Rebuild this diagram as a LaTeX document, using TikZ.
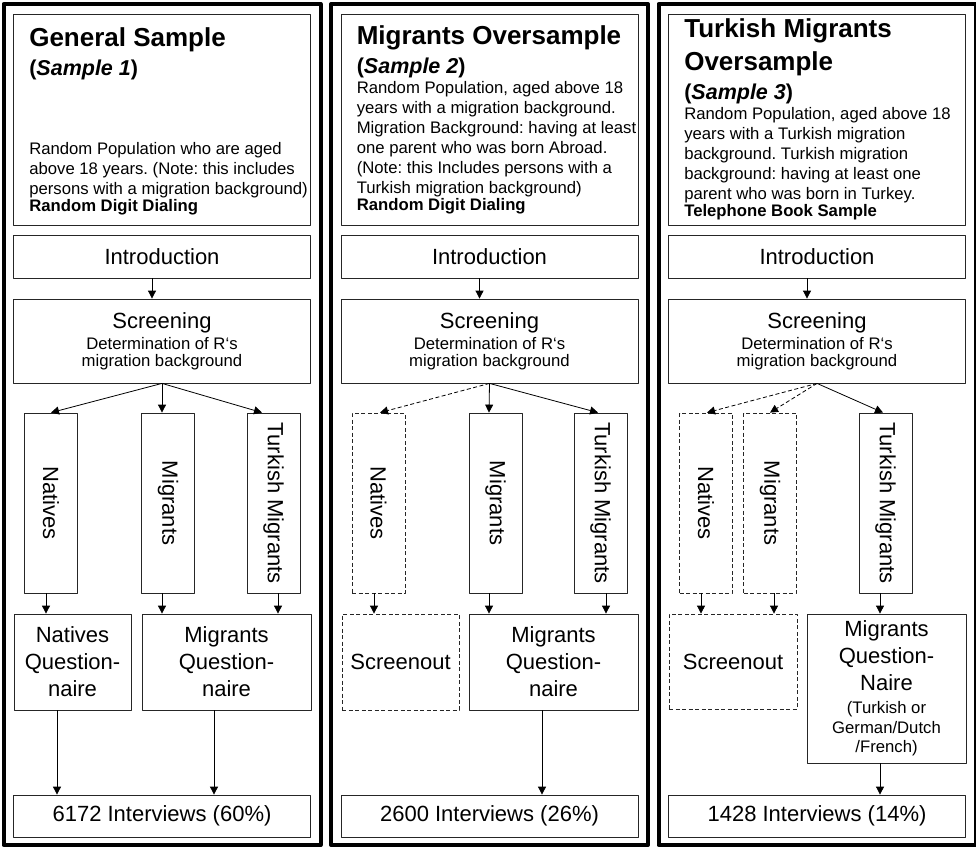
\documentclass[tikz,border=0pt]{standalone}
\usepackage{fontspec}
\usepackage{graphicx}
\setmainfont{Liberation Sans}
\usetikzlibrary{arrows.meta}
\frenchspacing
\newcommand{\mainsize}{\fontsize{22}{27}\selectfont}
\newcommand{\smallsize}{\fontsize{16.7}{19.5}\selectfont}
\newcommand{\ttlsize}{\fontsize{26}{33}\selectfont\bfseries}
\newcommand{\subsize}{\fontsize{21.5}{29}\selectfont\bfseries}
\newcommand{\bodysize}{\fontsize{16.7}{20}\selectfont\mdseries}
\begin{document}
\begin{tikzpicture}[x=1pt,y=-1pt,>={Triangle[length=8pt,width=8pt]},line join=round,
	box/.style={draw=black!85,line width=0.8pt,inner sep=0pt,align=center,font=\mainsize},
	dbox/.style={box,dash pattern=on 4pt off 2.5pt},
	frame/.style={draw=black,line width=4pt},
	toptext/.style={anchor=north west,inner sep=0pt,text width=290pt,align=flush left},
	arr/.style={->,line width=0.8pt},
	darr/.style={arr,dash pattern=on 4pt off 2.5pt}]
	\useasboundingbox (0,0) rectangle (976,848);
	% the three samples
	\foreach \i/\c/\n/\p in {1/162/6172/60,2/489.5/2600/26,3/817/1428/14}
	{
		\draw[frame] (\c-158.5,4) rectangle (\c+158.5,845);
		\node[box,minimum width=297pt,minimum height=211pt] (top\i) at (\c,119.5) {};
		\node[box,minimum width=297pt,minimum height=43pt] (intro\i) at (\c,256.5) {Introduction};
		\node[box,minimum width=297pt,minimum height=84pt] (scr\i) at (\c,341)
		{Screening\\[-6pt]{\smallsize Determination of R‘s}\\[-10pt]{\smallsize migration background}};
		\node[box,minimum width=297pt,minimum height=42pt] (int\i) at (\c,816) {\n\ Interviews (\p\%)};
		\draw[arr] ([xshift=-10pt]intro\i.south) -- ([xshift=-10pt]scr\i.north);
	}
	\node[toptext] (txt1) at ([shift={(16pt,-14pt)}]top1.north west)
	{\ttlsize General Sample\par
		\subsize(\textit{Sample 1})\par\vspace{59pt}
		\bodysize Random Population who are aged\\
		above 18 years. (Note: this includes\\
		persons with a migration background)\\
		\textbf{Random Digit Dialing}};
	\node[toptext] (txt2) at ([shift={(16pt,-12pt)}]top2.north west)
	{\ttlsize Migrants Oversample\par
		\subsize(\textit{Sample 2})\par
		\bodysize Random Population, aged above 18\\
		years with a migration background.\\
		Migration Background: having at least\\
		one parent who was born Abroad.\\
		(Note: this Includes persons with a\\
		Turkish migration background)\\
		\textbf{Random Digit Dialing}};
	\node[toptext] (txt3) at ([shift={(16pt,-5pt)}]top3.north west)
	{\ttlsize Turkish Migrants\\Oversample\par
		\subsize(\textit{Sample 3})\par
		\bodysize Random Population, aged above 18\\
		years with a Turkish migration\\
		background. Turkish migration\\
		background: having at least one\\
		parent who was born in Turkey.\\
		\textbf{Telephone Book Sample}};
	% screened groups
	\foreach \nm/\x/\t/\s in {nat1/51/Natives/box,mig1/168/Migrants/box,tur1/273.5/Turkish Migrants/box,
		nat2/378.5/Natives/dbox,mig2/495.5/Migrants/box,tur2/600.5/Turkish Migrants/box,
		nat3/706/Natives/dbox,mig3/770/Migrants/dbox,tur3/885.5/Turkish Migrants/box}
	\node[\s,minimum width=53pt,minimum height=180pt] (\nm) at (\x,503) {\rotatebox{-90}{\t}};
	% questionnaires
	\node[box,minimum width=117pt,minimum height=96pt] (nq1) at (72.5,662) {Natives\\Question-\\naire};
	\node[box,minimum width=169pt,minimum height=96pt] (mq1) at (226.5,662) {Migrants\\Question-\\naire};
	\node[dbox,minimum width=117pt,minimum height=96pt] (so2) at (400.5,662) {Screenout};
	\node[box,minimum width=169pt,minimum height=96pt] (mq2) at (553.5,662) {Migrants\\Question-\\naire};
	\node[dbox,minimum width=128pt,minimum height=95pt] (so3) at (733,661.5) {Screenout};
	\node[box,minimum width=159pt,minimum height=149pt] (mq3) at (886.5,688.5)
	{Migrants\\Question-\\Naire\\[-4pt]{\smallsize (Turkish or}\\[-7pt]{\smallsize German/Dutch}\\[-8pt]{\smallsize /French)}};
	% arrows from screening
	\foreach \a/\b/\s/\d in {1/nat1/0/arr,1/mig1/-6/arr,1/tur1/-11.5/arr,
		2/nat2/1.5/darr,2/mig2/-6.5/arr,2/tur2/-2.5/arr,
		3/nat3/1/darr,3/mig3/0/darr,3/tur3/-2.5/arr}
	\draw[\d] (scr\a.south) -- ([xshift=\s pt]\b.north);
	% arrows down to questionnaires
	\foreach \a/\b/\s in {nat1/nq1/-5,mig1/mq1/-6,tur1/mq1/4.5,
		nat2/so2/-4.5,mig2/mq2/-6.5,tur2/mq2/5.5,
		nat3/so3/-5,mig3/so3/4,tur3/mq3/-5.5}
	\draw[arr] ([xshift=\s pt]\a.south) -- ([xshift=\s pt]\a.south |- \b.north);
	% arrows to interviews
	\foreach \a/\b/\s in {nq1/int1/-15.5,mq1/int1/-12.5,mq2/int2/-11.5,mq3/int3/-6.5}
	\draw[arr] ([xshift=\s pt]\a.south) -- ([xshift=\s pt]\a.south |- \b.north);
\end{tikzpicture}
\end{document}
